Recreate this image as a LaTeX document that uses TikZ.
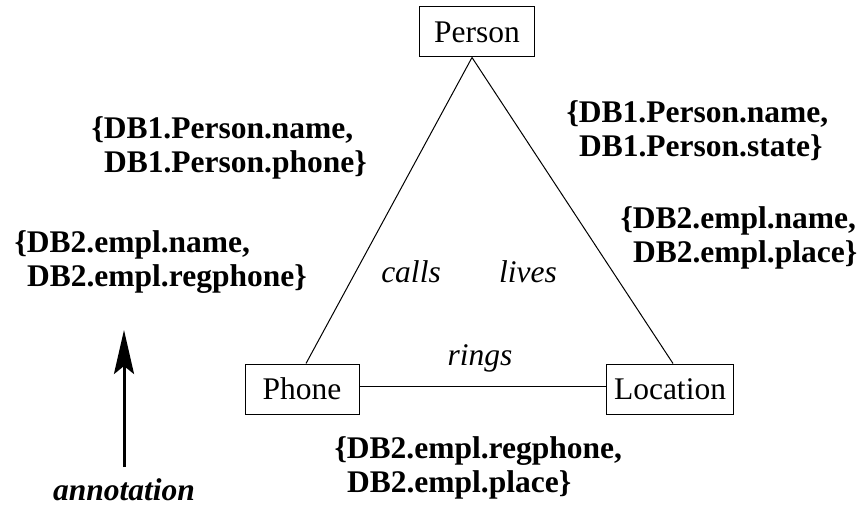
\documentclass[tikz,border=0pt]{standalone}
\usepackage{fontspec}
\setmainfont{Liberation Serif}
\usetikzlibrary{arrows.meta}

\begin{document}
\begin{tikzpicture}[
  x=1pt, y=-1pt,
  line width=1pt,
  entity/.style={
    draw,
    rectangle,
    fill=none,
    minimum height=50pt,
    inner sep=0pt,
    font=\fontsize{31.5}{34}\selectfont,
  },
  rel/.style={
    draw=none,
    fill=none,
    font=\fontsize{31.5}{34}\selectfont\itshape,
  },
  source/.style={
    draw=none,
    fill=none,
    anchor=base west,
    align=left,
    inner sep=0pt,
    font=\fontsize{31.5}{34}\selectfont\bfseries,
  },
  >={Stealth[length=44pt,width=20pt,inset=8pt]}
]

\useasboundingbox (0,0) rectangle (864,510);

% Entities
\node[entity,minimum width=115pt] (person) at (477,32) {Person};
\node[entity,minimum width=114pt] (phone) at (302,389) {Phone};
\node[entity,minimum width=127pt] (location) at (670,389) {Location};

% Relationships
\coordinate (apex) at ([xshift=-5pt]person.south);
\draw (apex) -- ([xshift=4pt]phone.north);
\draw (apex) -- ([xshift=3pt]location.north);
\draw ([yshift=3pt]phone.east) -- ([yshift=3pt]location.west);

\node[rel] (calls) at (411,272) {calls};
\node[rel] (lives) at (528,272) {lives};
\node[rel] (rings) at (480,358) {rings};

% Annotations (coordinates = baseline of the second line)
\node[source] (srcCalls) at (91,173)
  {\{DB1.Person.name,\\\hspace{0.4em}DB1.Person.phone\}};
\node[source] (srcLives1) at (566,157)
  {\{DB1.Person.name,\\\hspace{0.4em}DB1.Person.state\}};
\node[source] (srcLives2) at (620,263)
  {\{DB2.empl.name,\\\hspace{0.4em}DB2.empl.place\}};
\node[source] (srcCalls2) at (14,287)
  {\{DB2.empl.name,\\\hspace{0.4em}DB2.empl.regphone\}};
\node[source] (srcRings) at (334,492)
  {\{DB2.empl.regphone,\\\hspace{0.4em}DB2.empl.place\}};

% Legend arrow
\node[rel,font=\fontsize{31.5}{34}\selectfont\bfseries\itshape] (annot) at (124,490) {annotation};
\coordinate (annotTip) at (124,330);
\draw[->,line width=3pt] (annot.north -| annotTip) ++(0,-8) -- (annotTip);

\end{tikzpicture}
\end{document}
